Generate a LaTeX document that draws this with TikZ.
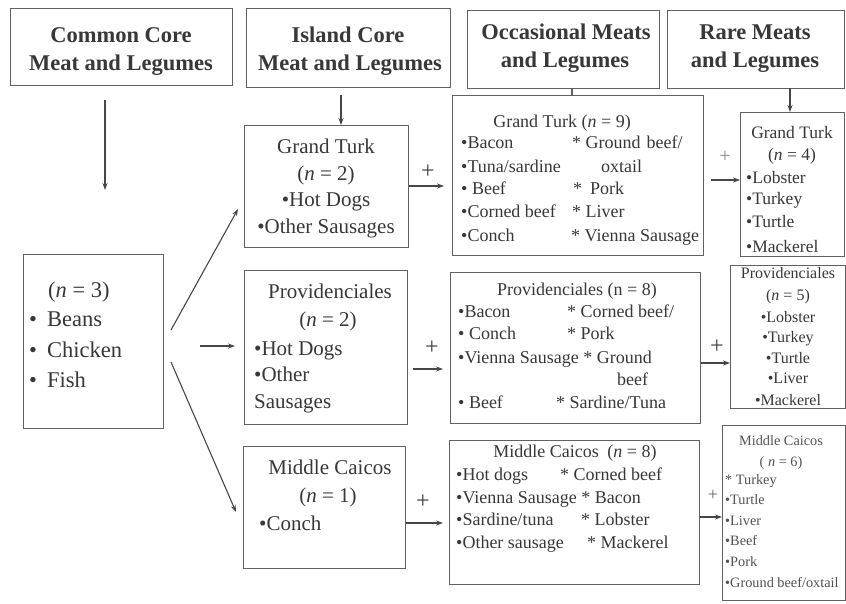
\documentclass[tikz,border=0pt]{standalone}
\usepackage{fontspec}
\setmainfont{Liberation Serif}
\usetikzlibrary{arrows.meta}
\newcommand\panel[5]{\node[box,anchor=north west,minimum width=#4pt,minimum height=#5pt] (#1) at (#2,#3) {};}
\begin{document}
\begin{tikzpicture}[x=1pt,y=-1pt,
  box/.style={draw=black!62, line width=1.2pt, inner sep=0pt},
  lt/.style={inner sep=0pt, anchor=base west, text=black!78},
  ct/.style={inner sep=0pt, anchor=base, text=black!78},
  head/.style={ct, font=\fontsize{22.5}{26}\selectfont\bfseries},
  comf/.style={font=\fontsize{22.5}{26}\selectfont},
  isl/.style={font=\fontsize{21}{25}\selectfont},
  occ/.style={font=\fontsize{18}{22}\selectfont},
  rar/.style={font=\fontsize{17.5}{20}\selectfont},
  rarp/.style={font=\fontsize{16}{20}\selectfont},
  rarm/.style={font=\fontsize{14.3}{18}\selectfont, text=black!68},
  arr/.style={draw=black!72, line width=1.1pt, -{Stealth[length=7pt,width=5pt]}},
  ln/.style={draw=black!62, line width=1.1pt},
  plus/.style={inner sep=0pt, text=black!75, font=\fontsize{24}{24}\selectfont},
]
\useasboundingbox[fill=white] (0,0) rectangle (846,603);

% column headers
\panel{hCom}{10}{8}{222}{77}
\panel{hIsl}{246}{8}{204}{79}
\panel{hOcc}{467}{10}{192}{78}
\panel{hRare}{667}{10}{177}{78}
\node[head] (hCom1) at (121,42) {Common Core};
\node[head] (hCom2) at (121,70) {Meat and Legumes};
\node[head] (hIsl1) at (348,42) {Island Core};
\node[head] (hIsl2) at (350,70) {Meat and Legumes};
\node[head] (hOcc1) at (566,39) {Occasional Meats};
\node[head] (hOcc2) at (565,67) {and Legumes};
\node[head] (hRare1) at (755,39) {Rare Meats};
\node[head] (hRare2) at (755,67) {and Legumes};

% boxes
\panel{com}{23}{254}{140}{174}
\panel{gtI}{244}{125}{164}{122}
\panel{prI}{244}{270}{163}{154}
\panel{mcI}{243}{446}{162}{122}
\panel{gtO}{452}{95}{251}{160}
\panel{prO}{450}{272}{250}{151}
\panel{mcO}{449}{440}{250}{144}
\panel{gtR}{740}{112}{104}{144}
\panel{prR}{730}{265}{115}{143}
\panel{mcR}{722}{425}{123}{175}

% common core
\node[lt,comf] (c0) at (48,297) {(\textit{n} = 3)};
\node[lt,comf] (c1) at (29,326) {•\hspace{10pt}Beans};
\node[lt,comf] (c2) at (29,357) {•\hspace{10pt}Chicken};
\node[lt,comf] (c3) at (29,387) {•\hspace{10pt}Fish};

% island core
\node[ct,isl] (gi0) at (326,153) {Grand Turk};
\node[ct,isl] (gi1) at (326,180) {(\textit{n} = 2)};
\node[ct,isl] (gi2) at (326,206) {•Hot Dogs};
\node[ct,isl] (gi3) at (326,233) {•Other Sausages};
\node[ct,isl] (pi0) at (330,298) {Providenciales};
\node[ct,isl] (pi1) at (328,326) {(\textit{n} = 2)};
\node[lt,isl] (pi2) at (254,355) {•Hot Dogs};
\node[lt,isl] (pi3) at (254,381) {•Other};
\node[lt,isl] (pi4) at (254,408) {Sausages};
\node[ct,isl] (mi0) at (330,474) {Middle Caicos};
\node[ct,isl] (mi1) at (328,502) {(\textit{n} = 1)};
\node[lt,isl] (mi2) at (259,530) {•Conch};

% occasional
\node[ct,occ] (go0) at (562,127) {Grand Turk (\textit{n} = 9)};
\node[lt,occ] (go1) at (461,148) {•Bacon};
\node[lt,occ] (go2) at (461,172) {•Tuna/sardine};
\node[lt,occ] (go3) at (461,194) {• Beef};
\node[lt,occ] (go4) at (461,217) {•Corned beef};
\node[lt,occ] (go5) at (461,241) {•Conch};
\node[lt,occ] (go6) at (572,148) {* Ground\hspace{6pt}beef/};
\node[lt,occ] (go7) at (601,172) {oxtail};
\node[lt,occ] (go8) at (573,194) {*\hspace{8pt}Pork};
\node[lt,occ] (go9) at (572,217) {* Liver};
\node[lt,occ] (go10) at (571,241) {* Vienna Sausage};

\node[ct,occ] (po0) at (577,295) {Providenciales (n = 8)};
\node[lt,occ] (po1) at (458,317) {•Bacon};
\node[lt,occ] (po2) at (458,339) {• Conch};
\node[lt,occ] (po3) at (458,363) {•Vienna Sausage * Ground};
\node[lt,occ] (po4) at (458,408) {• Beef};
\node[lt,occ] (po5) at (567,317) {* Corned beef/};
\node[lt,occ] (po6) at (567,339) {* Pork};
\node[lt,occ] (po7) at (617,385) {beef};
\node[lt,occ] (po8) at (556,408) {* Sardine/Tuna};

\node[ct,occ] (mo0) at (575,457) {Middle Caicos\hspace{4pt} (\textit{n} = 8)};
\node[lt,occ] (mo1) at (456,480) {•Hot dogs};
\node[lt,occ] (mo2) at (456,503) {•Vienna Sausage * Bacon};
\node[lt,occ] (mo3) at (456,525) {•Sardine/tuna};
\node[lt,occ] (mo4) at (456,548) {•Other sausage};
\node[lt,occ] (mo5) at (560,480) {* Corned beef};
\node[lt,occ] (mo6) at (581,525) {* Lobster};
\node[lt,occ] (mo7) at (587,548) {* Mackerel};

% rare
\node[ct,rar] (gr0) at (792,138) {Grand Turk};
\node[ct,rar] (gr1) at (792,160) {(\textit{n} = 4)};
\node[lt,rar] (gr2) at (746,183) {•Lobster};
\node[lt,rar] (gr3) at (746,204) {•Turkey};
\node[lt,rar] (gr4) at (746,227) {•Turtle};
\node[lt,rar] (gr5) at (746,252) {•Mackerel};

\node[ct,rarp] (pr0) at (788,278) {Providenciales};
\node[ct,rarp] (pr1) at (788,300) {(\textit{n} = 5)};
\node[ct,rarp] (pr2) at (788,322) {•Lobster};
\node[ct,rarp] (pr3) at (788,342) {•Turkey};
\node[ct,rarp] (pr4) at (788,363) {•Turtle};
\node[ct,rarp] (pr5) at (788,383) {•Liver};
\node[ct,rarp] (pr6) at (788,405) {•Mackerel};

\node[ct,rarm] (mr0) at (781,445) {Middle Caicos};
\node[ct,rarm] (mr1) at (781,466) {( \textit{n} = 6)};
\node[lt,rarm] (mr2) at (725,484) {* Turkey};
\node[lt,rarm] (mr3) at (725,504) {•Turtle};
\node[lt,rarm] (mr4) at (725,525) {•Liver};
\node[lt,rarm] (mr5) at (725,545) {•Beef};
\node[lt,rarm] (mr6) at (725,566) {•Pork};
\node[lt,rarm] (mr7) at (725,587) {•Ground beef/oxtail};

% connectors from the headers
\coordinate (k0) at (105,100);
\coordinate (k0e) at (105,190);
\draw[arr] (k0) -- (k0e);
\coordinate (k1) at (341,95);
\draw[arr] (k1) -- (k1 |- gtI.north);
\coordinate (k2) at (572,88);
\draw[ln] (k2) -- (k2 |- gtO.north);
\coordinate (k3) at (790,88);
\draw[arr] (k3) -- (k3 |- gtR.north);

% common core to island core
\coordinate (s1) at (171,330);
\coordinate (e1) at (238,209);
\draw[arr] (s1) -- (e1);
\coordinate (s2) at (200,346);
\coordinate (e2) at (235,346);
\draw[arr] (s2) -- (e2);
\coordinate (s3) at (171,362);
\coordinate (e3) at (236,512);
\draw[arr] (s3) -- (e3);

% island core to occasional
\node[plus] (p1) at (428,172) {+};
\coordinate (t1) at (444,186);
\draw[arr] (gtI.east |- t1) -- (t1);
\node[plus] (p2) at (432,348) {+};
\coordinate (u2) at (413,369);
\coordinate (t2) at (443,369);
\draw[arr] (u2) -- (t2);
\node[plus] (p3) at (423,502) {+};
\coordinate (t3) at (443,523);
\draw[arr] (mcI.east |- t3) -- (t3);

% occasional to rare
\node[plus,text=black!45,font=\fontsize{20}{20}\selectfont] (p4) at (725,157) {+};
\coordinate (u4) at (711,180);
\draw[arr] (u4) -- (u4 -| gtR.west);
\node[plus] (p5) at (717,347) {+};
\coordinate (t5) at (730,363);
\draw[arr] (prO.east |- t5) -- (t5);
\node[plus,text=black!60,font=\fontsize{18}{18}\selectfont] (p6) at (713,495) {+};
\coordinate (t6) at (722,517);
\draw[arr] (mcO.east |- t6) -- (t6);
\end{tikzpicture}
\end{document}
